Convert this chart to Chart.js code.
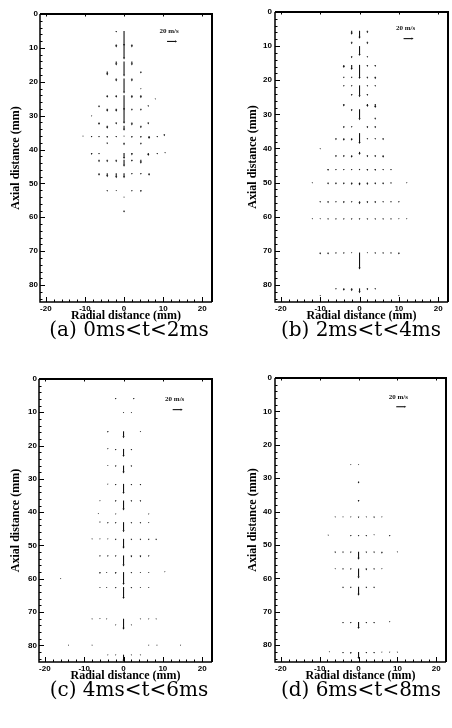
<!DOCTYPE html>
<html>
<head>
<meta charset="utf-8">
<script src="https://cdn.jsdelivr.net/npm/chart.js@4.4.0/dist/chart.umd.min.js"></script>
<style>
body{margin:0;background:#fff;width:452px;height:728px;position:relative;overflow:hidden}
canvas{position:absolute}
.cap{position:absolute;width:226px;font-family:"DejaVu Serif";font-size:20px;line-height:24px;color:#000;text-align:center;white-space:nowrap}
</style>
</head>
<body>
<canvas id="ca" width="226" height="324" style="left:0;top:0"></canvas>
<canvas id="cb" width="226" height="324" style="left:226px;top:0"></canvas>
<canvas id="cc" width="226" height="324" style="left:0;top:360px"></canvas>
<canvas id="cd" width="226" height="324" style="left:226px;top:360px"></canvas>
<div class="cap" style="left:16px;top:317px">(a) 0ms&lt;t&lt;2ms</div>
<div class="cap" style="left:248px;top:317px">(b) 2ms&lt;t&lt;4ms</div>
<div class="cap" style="left:16px;top:677px">(c) 4ms&lt;t&lt;6ms</div>
<div class="cap" style="left:248px;top:677px">(d) 6ms&lt;t&lt;8ms</div>
<script>
// axial rows (mm), radial positions (mm) and axial velocity (m/s) per row
const rowsA = [5, 9, 14, 17, 19, 22, 24, 25, 27, 28, 30, 32, 33, 35.5, 36, 38, 41, 43, 47, 52, 54, 58];
const xA = [
  [-2,0], [-2,0,2], [-2,0,2], [-4.3,4.3], [-2,0,2], [4.3], [-4.3,-2,0,2,4.3], [8], [-6.4,6.2],
  [-4.3,-2,0,2,4.3], [-8.3], [-6.4,-2,2,6.2], [-4.3,0,4.3], [10.3],
  [-10.5,-8.3,-6.4,-4.3,-2,0,2,4.3,6.4,8.5], [-4.3,0,4.3], [-8.3,-6.4,0,2,6.2,8.5,10.5],
  [-6.4,-4.3,-2,0,2,4.3], [-6.4,-4.3,-2,0,2,4.3,6.4], [-4.3,-2,2,4.3], [0], [0]
];
const vA = [
  [3,30], [6,30,6], [8,30,8], [8,4], [6,30,6], [2], [5,5,30,6,6], [2], [4,3],
  [6,6,30,4,4], [2], [5,4,6,4], [6,10,5], [4],
  [2,3,3,4,3,2,4,4,6,3], [3,5,4], [4,3,12,5,6,3,1],
  [5,5,5,14,4,8], [5,8,10,10,3,3,5], [3,2,3,4], [2], [4]
];

const rowsB = [5.5, 8.7, 10, 13, 15.5, 19, 21.5, 24, 27, 28.5, 31, 33.5, 35.5, 37, 40, 41, 42, 46, 50, 55.5, 60.5, 70.5, 81, 83];
const xB = [
  [-2,0,2], [-2,2], [0], [-2,2], [-4,-2,0,2,4], [-4,-2,2,4], [-4,-2,0,2,4], [-2,2], [-4,2,4],
  [-2,0], [4], [-4,-2,2,4], [0], [-6,-4,-2,2,4,6], [-10], [0], [-6,-4,-2,2,4,6],
  [-8,-6,-4,-2,0,2,4,6,8], [-12,-8,-6,-4,-2,0,2,4,6,8,12], [-10,-8,-6,-4,-2,0,2,4,6,8,10],
  [-12,-10,-8,-6,-4,-2,0,2,4,6,8,10,12], [-10,-8,-6,-4,-2,0,2,4,6,8,10], [-6,-4,-2,0,2,4], [-10,10]
];
const vB = [
  [8,16,5], [5,5], [20], [4,3], [6,10,28,4,4], [3,3,4,5], [3,3,24,3,3], [4,4], [5,6,8],
  [4,22], [4], [4,3,4,4], [22], [4,5,5,3,3,4], [2], [6], [4,4,5,4,4,5],
  [4,3,3,3,3,4,4,3,3], [2,4,4,4,5,6,5,4,4,3,2], [3,4,3,4,3,6,4,4,3,3,3],
  [2,2,3,3,3,3,3,3,3,3,3,2,2], [4,4,3,3,2,34,2,3,3,3,4], [3,5,6,10,4,3], [2,2]
];

const rowsC = [5.7, 10, 15.7, 21, 26, 31.5, 36.5, 40.5, 43, 48, 53, 58, 60, 62.5, 72, 73.8, 80, 82.8];
const xC = [
  [-2,2.6], [0,2], [-4,0,4.3], [-4,-2,0,2], [-4,-2,0,2], [-4,-2,0,2,4.3], [-6,-2,0,2,4.3],
  [-6.4,-2,6.4], [-6,-4,-2,0,2,4.3,6.4], [-8,-6,-4,-2,0,2,4.3,6.4,8.3], [-6,-4,-2,0,2,4.3,6.4],
  [-6,-4.3,-2,0,2,4.3,6.4,10.5], [-16], [-6,-4.3,-2,0,2,4.3,6.4], [-8,-6,-4.3,0,4.3,6.4,8.3],
  [-2,2], [-14,-8,6.4,8.5,14.5], [-4,-2,0,2,4.3]
];
const vC = [
  [3,3], [2,2], [3,14,2], [1,3,16,3], [1,3,16,3], [2,3,20,3,3], [2,3,20,3,3],
  [1,2,2], [1,3,3,20,3,3,2], [2,2,2,3,20,3,3,3,3], [3,3,3,22,4,4,3],
  [4,2,4,26,3,2,2,1], [1], [2,2,3,24,3,2,2], [2,1,2,22,2,2,2],
  [2,2], [1,1,1,1,1], [2,2,14,2,2]
];

const rowsD = [26, 31, 36.5, 41.5, 47, 52, 57, 62.5, 73, 82];
const xD = [
  [-2,0], [0], [0], [-6,-4,-2,0,2,4,6], [-7.8,-2,0,2,4,8], [-6,-4,-2,0,2,4,6,10],
  [-6,-4,-2,0,2,4,6], [-4,-2,0,2,4], [-4,-2,0,2,4,8], [-7.5,-4,-2,0,2,4,6,8,10]
];
const vD = [
  [1,1], [4], [4], [2,2,2,3,2,3,2], [2,3,3,3,1,3], [3,3,3,16,3,3,4,2],
  [2,3,3,20,4,3,2], [3,3,18,3,3], [3,3,14,3,3,1], [1,3,4,14,3,3,2,2,2]
];

const xTicks = [-20, -10, 0, 10, 20];
const yTicks = [0, 10, 20, 30, 40, 50, 60, 70, 80];
const refSpeed = 20; // m/s
const K = 0.5; // px per m/s

function toPoints(rows, xs, vs){
  const pts = [];
  rows.forEach((r,i)=>{ xs[i].forEach((x,j)=>pts.push({x:x, y:r, v:vs[i][j]})); });
  return pts;
}

function arrow(ctx, x0, y0, dx, dy){
  const len = Math.hypot(dx, dy);
  if(len < 0.01) return;
  const ux = dx/len, uy = dy/len;
  const h = Math.min(2, len*0.4 + 0.8), w = h*0.55;
  const tx = x0 + dx, ty = y0 + dy;
  ctx.beginPath(); ctx.moveTo(x0, y0); ctx.lineTo(tx - ux*h*0.8, ty - uy*h*0.8); ctx.stroke();
  ctx.beginPath();
  ctx.moveTo(tx, ty);
  ctx.lineTo(tx - ux*h - uy*w, ty - uy*h + ux*w);
  ctx.lineTo(tx - ux*h + uy*w, ty - uy*h - ux*w);
  ctx.closePath(); ctx.fill();
}

const vectorPlugin = {
  id:'vectors',
  afterDatasetsDraw(chart){
    const {ctx, chartArea:a, scales:{x, y}} = chart;
    const o = chart.options.plugins.vectors;
    ctx.save();
    ctx.strokeStyle = '#111'; ctx.fillStyle = '#111'; ctx.lineWidth = 1.1;
    chart.data.datasets[0].data.forEach(p=>{
      arrow(ctx, x.getPixelForValue(p.x), y.getPixelForValue(p.y), 0, p.v*K);
    });
    // reference vector
    const rx = x.getPixelForValue(o.refX), ry = y.getPixelForValue(o.refY);
    arrow(ctx, rx, ry, refSpeed*K, 0);
    ctx.font = 'bold 7px "Liberation Serif"';
    ctx.textAlign = 'center'; ctx.textBaseline = 'middle';
    ctx.fillText(refSpeed + ' m/s', rx + 2, ry - 10);
    // frame
    ctx.strokeStyle = '#000';
    ctx.lineWidth = 1.5;
    ctx.beginPath();
    ctx.moveTo(a.left, a.top); ctx.lineTo(a.left, a.bottom); ctx.lineTo(a.right, a.bottom);
    ctx.stroke();
    ctx.lineWidth = 2;
    ctx.beginPath();
    ctx.moveTo(a.left, a.top); ctx.lineTo(a.right, a.top); ctx.lineTo(a.right, a.bottom);
    ctx.stroke();
    // inward ticks
    ctx.lineWidth = 1;
    ctx.beginPath();
    for(let v = 0; v <= 84; v += 2){
      const py = Math.round(y.getPixelForValue(v)) + 0.5;
      const L = v % 10 === 0 ? 5 : 2.5;
      ctx.moveTo(a.left, py); ctx.lineTo(a.left + L, py);
    }
    for(let v = -20; v <= 20; v += 2){
      const px = Math.round(x.getPixelForValue(v)) + 0.5;
      const L = v % 10 === 0 ? 5 : 2.5;
      ctx.moveTo(px, a.bottom); ctx.lineTo(px, a.bottom - L);
      if(v % 10 === 0){ ctx.moveTo(px, a.top); ctx.lineTo(px, a.top + 2.5); }
    }
    ctx.stroke();
    ctx.restore();
  }
};

function makePanel(id, rows, xs, vs, p){
  new Chart(document.getElementById(id), {
    type:'scatter',
    data:{datasets:[{data:toPoints(rows, xs, vs), pointRadius:0, pointHoverRadius:0}]},
    options:{
      responsive:false, animation:false, events:[],
      layout:{padding:{top:p.padTop, right:p.padRight, bottom:1, left:0}},
      plugins:{legend:{display:false}, tooltip:{enabled:false},
        vectors:{refX:p.refX, refY:p.refY}},
      scales:{
        x:{type:'linear', min:-21.5, max:22.5,
          afterBuildTicks:s=>{ s.ticks = xTicks.map(v=>({value:v})); },
          afterFit:s=>{ s.height = 21; },
          grid:{display:false, drawTicks:false}, border:{display:false},
          ticks:{padding:2, color:'#000', font:{family:'"Liberation Sans"', size:8, weight:'bold'}, maxRotation:0},
          title:{display:true, text:'Radial distance (mm)', color:'#000', padding:{top:0, bottom:1},
            font:{family:'"Liberation Serif"', size:12, weight:'bold', lineHeight:1}}
        },
        y:{type:'linear', reverse:true, min:0, max:85,
          afterBuildTicks:s=>{ s.ticks = yTicks.map(v=>({value:v})); },
          afterFit:s=>{ s.width = p.yWidth; },
          grid:{display:false, drawTicks:false}, border:{display:false},
          ticks:{padding:p.yPad, color:'#000', font:{family:'"Liberation Sans"', size:8, weight:'bold'}},
          title:{display:true, text:'Axial distance (mm)', color:'#000', padding:{top:p.yTitlePad, bottom:0},
            font:{family:'"Liberation Serif"', size:12, weight:'bold', lineHeight:1}}
        }
      }
    },
    plugins:[vectorPlugin]
  });
}

makePanel('ca', rowsA, xA, vA, {padTop:14, padRight:14, yWidth:40, yPad:2, yTitlePad:10, refX:11, refY:8.1});
makePanel('cb', rowsB, xB, vB, {padTop:12, padRight:4, yWidth:49, yPad:3, yTitlePad:21, refX:11.2, refY:7.8});
makePanel('cc', rowsC, xC, vC, {padTop:19, padRight:14, yWidth:39, yPad:2, yTitlePad:10, refX:12.5, refY:9.2});
makePanel('cd', rowsD, xD, vD, {padTop:18, padRight:6, yWidth:49, yPad:3, yTitlePad:21, refX:9.7, refY:8.6});
</script>
</body>
</html>
